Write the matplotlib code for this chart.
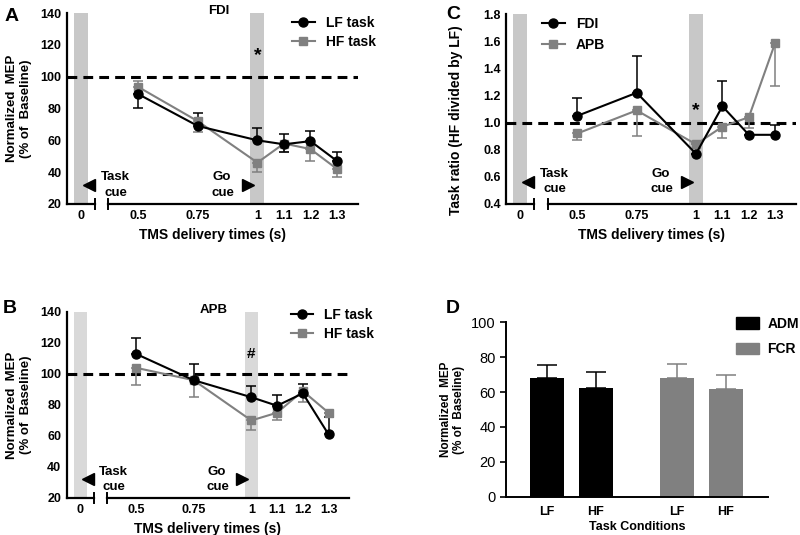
import matplotlib.pyplot as plt
from matplotlib.lines import Line2D
from matplotlib.patches import Patch

plt.rcParams['font.family'] = ['Liberation Sans', 'DejaVu Sans']
plt.rcParams['font.weight'] = 'bold'
plt.rcParams['axes.labelweight'] = 'bold'

# TMS delivery times (s)
times = [0.5, 0.75, 1.0, 1.1, 1.2, 1.3]
tick_times = [0, 0.5, 0.75, 1.0, 1.1, 1.2, 1.3]
tick_labels = ['0', '0.5', '0.75', '1', '1.1', '1.2', '1.3']

# A - FDI, normalized MEP (% of baseline)
fdi_lf = [89, 69, 60, 57.5, 59.5, 47]
fdi_lf_lo = [9, 0, 0, 5, 0, 0]
fdi_lf_hi = [0, 8, 8, 6.5, 6.5, 5.5]
fdi_hf = [93.5, 72, 46, 58, 54.5, 42]
fdi_hf_lo = [0, 7, 6, 5.5, 7.5, 5]
fdi_hf_hi = [3.5, 0, 0, 0, 0, 0]

# B - APB
apb_lf = [113, 96, 85, 79.5, 87.5, 61]
apb_lf_lo = [0, 0, 0, 0, 0, 0]
apb_lf_hi = [10, 10.5, 7.5, 7, 6, 11]
apb_hf = [104, 96, 70, 75, 89, 75]
apb_hf_lo = [11, 11, 6, 5, 7, 0]
apb_hf_hi = [0, 0, 0, 0, 0, 0]

# C - task ratio (HF / LF)
ratio_fdi = [1.05, 1.22, 0.77, 1.12, 0.91, 0.91]
ratio_fdi_lo = [0, 0, 0, 0, 0, 0]
ratio_fdi_hi = [0.13, 0.27, 0, 0.19, 0, 0.07]
ratio_apb = [0.92, 1.09, 0.84, 0.97, 1.04, 1.59]
ratio_apb_lo = [0.05, 0.19, 0, 0.08, 0.08, 0.32]
ratio_apb_hi = [0, 0, 0, 0, 0, 0]

# D - ADM / FCR
conditions = ['LF', 'HF']
adm = [68, 62.5]
adm_err = [7.3, 9.2]
fcr = [68, 61.5]
fcr_err = [8, 8]

GREY = '#808080'


def tpos(t):
    # broken, non-linear time axis like the original figure
    if t == 0:
        return 0.0
    if t <= 1:
        return 2.2 + (t - 0.5) * 9.15
    return 6.775 + (t - 1) * 10.2


xs = [tpos(t) for t in times]
XLIM = (-0.54, 10.65)


def time_panel(ax, ylim, band_color, ref):
    ax.set_xlim(*XLIM)
    ax.set_ylim(*ylim)
    for t in (0, 1.0):
        ax.axvspan(tpos(t) - 0.27, tpos(t) + 0.27, color=band_color, lw=0, zorder=0)
    ax.axhline(ref, ls=(0, (3.2, 2.0)), lw=2.2, color='k', zorder=1)
    for s in ('top', 'right', 'bottom'):
        ax.spines[s].set_visible(False)
    ax.spines['left'].set_linewidth(1.6)
    tr = ax.get_xaxis_transform()
    ax.plot([XLIM[0], 0.53], [0, 0], transform=tr, color='k', lw=1.6, clip_on=False)
    ax.plot([1.05, XLIM[1]], [0, 0], transform=tr, color='k', lw=1.6, clip_on=False)
    for b in (0.53, 1.05):
        ax.plot([b, b], [-0.028, 0.028], transform=tr, color='k', lw=1.4, clip_on=False)
    ax.set_xticks([tpos(t) for t in tick_times])
    ax.set_xticklabels(tick_labels)
    ax.tick_params(length=0, labelsize=9, pad=4)
    ax.set_xlabel('TMS delivery times (s)', fontsize=10, labelpad=5)


def cue_labels(ax, y_text_hi, y_text_lo, y_tri):
    ax.plot(tpos(0) + 0.3, y_tri, marker='<', ms=9, color='k', ls='none')
    ax.text(1.32, y_text_hi, 'Task', ha='center', va='center', fontsize=9.5)
    ax.text(1.32, y_text_lo, 'cue', ha='center', va='center', fontsize=9.5)
    ax.text(5.4, y_text_hi, 'Go', ha='center', va='center', fontsize=9.5)
    ax.text(5.45, y_text_lo, 'cue', ha='center', va='center', fontsize=9.5)
    ax.plot(6.42, y_tri, marker='>', ms=9, color='k', ls='none')


def series(ax, y, lo, hi, color, marker, ms):
    ax.errorbar(xs, y, yerr=[lo, hi], color=color, marker=marker, ms=ms,
                lw=1.5, elinewidth=1.1, capsize=3.5, capthick=1.1, zorder=3)


def line_legend(ax, labels, anchor, spacing):
    handles = [Line2D([], [], color='k', marker='o', ms=6.5, lw=1.5),
               Line2D([], [], color=GREY, marker='s', ms=6, lw=1.5)]
    ax.legend(handles, labels, loc='upper left', bbox_to_anchor=anchor,
              frameon=False, fontsize=10, handlelength=1.6, handletextpad=0.8,
              labelspacing=spacing, borderpad=0)


fig = plt.figure(figsize=(8, 5.35), dpi=100)

# ---- A ----
axA = fig.add_axes([0.0838, 0.6187, 0.364, 0.357])
time_panel(axA, (20, 140), '#c8c8c8', 100)
series(axA, fdi_hf, fdi_hf_lo, fdi_hf_hi, GREY, 's', 6)
series(axA, fdi_lf, fdi_lf_lo, fdi_lf_hi, 'k', 'o', 6.5)
axA.set_yticks(range(20, 141, 20))
axA.set_ylabel('Normalized  MEP\n(% of  Baseline)', fontsize=9.5, labelpad=6)
axA.text(5.3, 141, 'FDI', ha='center', va='center', fontsize=9.5)
axA.text(tpos(1.0), 113, '*', ha='center', va='center', fontsize=14)
cue_labels(axA, 37, 27, 32)
line_legend(axA, ['LF task', 'HF task'], (0.75, 1.02), 0.35)
fig.text(0.006, 0.985, 'A', fontsize=14, va='top')

# ---- B ----
axB = fig.add_axes([0.0834, 0.0692, 0.353, 0.3477])
time_panel(axB, (20, 140), '#d9d9d9', 100)
series(axB, apb_hf, apb_hf_lo, apb_hf_hi, GREY, 's', 6)
series(axB, apb_lf, apb_lf_lo, apb_lf_hi, 'k', 'o', 6.5)
axB.set_yticks(range(20, 141, 20))
axB.set_ylabel('Normalized  MEP\n(% of  Baseline)', fontsize=9.5, labelpad=6)
axB.text(5.3, 141, 'APB', ha='center', va='center', fontsize=9.5)
axB.text(tpos(1.0), 113, '#', ha='center', va='center', fontsize=11)
cue_labels(axB, 37, 27, 32)
line_legend(axB, ['LF task', 'HF task'], (0.77, 1.06), 0.35)
fig.text(0.004, 0.44, 'B', fontsize=14, va='top')

# ---- C ----
axC = fig.add_axes([0.633, 0.6187, 0.3625, 0.355])
time_panel(axC, (0.4, 1.8), '#c8c8c8', 1.0)
series(axC, ratio_apb, ratio_apb_lo, ratio_apb_hi, GREY, 's', 6)
series(axC, ratio_fdi, ratio_fdi_lo, ratio_fdi_hi, 'k', 'o', 6.5)
axC.set_yticks([0.4, 0.6, 0.8, 1.0, 1.2, 1.4, 1.6, 1.8])
axC.set_yticklabels(['0.4', '0.6', '0.8', '1.0', '1.2', '1.4', '1.6', '1.8'])
axC.set_ylabel('Task ratio (HF divided by LF)', fontsize=10)
axC.yaxis.set_label_coords(-0.15, 0.44)
axC.text(tpos(1.0), 1.085, '*', ha='center', va='center', fontsize=14)
cue_labels(axC, 0.62, 0.51, 0.565)
line_legend(axC, ['FDI', 'APB'], (0.1, 1.02), 0.5)
fig.text(0.558, 0.988, 'C', fontsize=14, va='top')

# ---- D ----
axD = fig.add_axes([0.6325, 0.0716, 0.3275, 0.326])
bx_adm = [0, 1]
bx_fcr = [2.68, 3.69]
axD.bar(bx_adm, adm, width=0.7, color='k', yerr=[[0, 0], adm_err],
        error_kw=dict(ecolor='k', elinewidth=1.1, capsize=7, capthick=1.1))
axD.bar(bx_fcr, fcr, width=0.7, color=GREY, yerr=[[0, 0], fcr_err],
        error_kw=dict(ecolor=GREY, elinewidth=1.1, capsize=7, capthick=1.1))
axD.set_xlim(-0.85, 4.56)
axD.set_ylim(0, 100)
axD.set_yticks(range(0, 101, 20))
axD.set_yticklabels([str(v) for v in range(0, 101, 20)], fontweight='normal')
axD.set_xticks(bx_adm + bx_fcr)
axD.set_xticklabels(conditions + conditions)
axD.tick_params(axis='x', length=0, labelsize=9, pad=7)
axD.tick_params(axis='y', length=4, width=1.2, labelsize=10.5)
for s in ('top', 'right'):
    axD.spines[s].set_visible(False)
axD.spines['left'].set_linewidth(1.4)
axD.spines['bottom'].set_linewidth(1.4)
axD.set_xlabel('Task Conditions', fontsize=9, labelpad=2)
axD.set_ylabel('Normalized  MEP\n(% of  Baseline)', fontsize=8.5, labelpad=4)
axD.legend([Patch(color='k'), Patch(color=GREY)], ['ADM', 'FCR'],
           loc='upper left', bbox_to_anchor=(0.85, 1.07), frameon=False,
           fontsize=10, handlelength=1.7, handleheight=0.9,
           handletextpad=0.6, labelspacing=0.8, borderpad=0)
fig.text(0.557, 0.44, 'D', fontsize=14, va='top')

fig.savefig('out.png', dpi=100)
